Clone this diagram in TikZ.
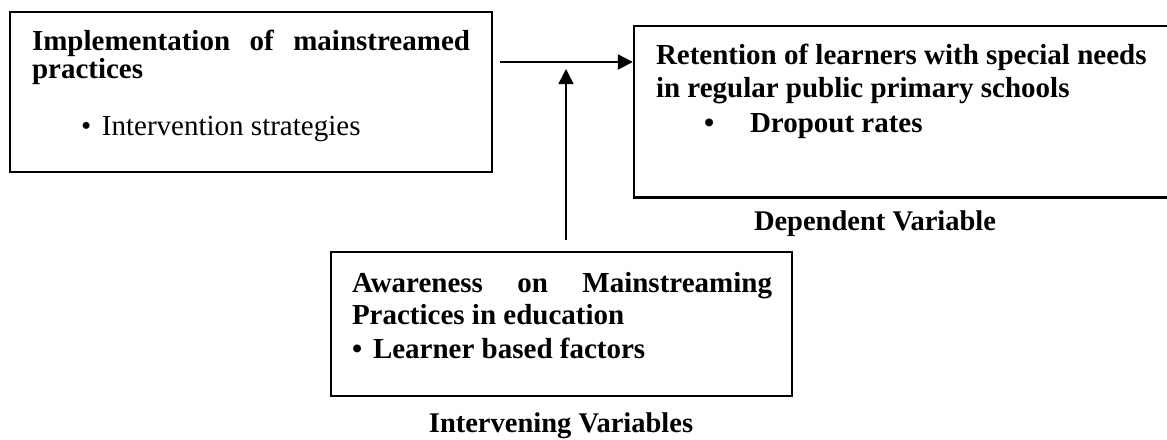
\documentclass[tikz,border=0pt]{standalone}
\usepackage{fontspec}
\setmainfont{Liberation Serif}
\usetikzlibrary{arrows.meta}
\begin{document}
\begin{tikzpicture}[x=1pt,y=-1pt,
  box/.style={draw=black, line width=2.4pt, rectangle, inner sep=0pt},
  txt/.style={anchor=base west, inner sep=0pt, outer sep=0pt, font=\fontsize{29}{29}\selectfont\bfseries},
  txtr/.style={anchor=base west, inner sep=0pt, outer sep=0pt, font=\fontsize{29}{29}\selectfont},
  lab/.style={anchor=base, inner sep=0pt, outer sep=0pt, font=\fontsize{28.5}{28.5}\selectfont\bfseries},
  mainarrow/.style={line width=2.4pt, -{Triangle[length=15pt,width=15pt]}},
  sidearrow/.style={line width=1.6pt, -{Triangle[length=15pt,width=15pt]}}
]
\useasboundingbox (0,0) rectangle (1167,439);
% boxes
\node[box, minimum width=482pt, minimum height=160pt] (b1) at (251,92) {};
\node[box, minimum width=536pt, minimum height=171.5pt] (b2) at (902,111.75) {};
\node[box, minimum width=461pt, minimum height=144pt] (b3) at (561.5,324) {};
% box 1 text
\node[txt] (t1a) at (32,50) {\hbox to 438pt{Implementation\hfill of\hfill mainstreamed}};
\node[txt] (t1b) at (32,78) {practices};
\node[txtr] (t1c) at (81,135) {\makebox[21pt][l]{\textbullet}Intervention strategies};
% box 2 text
\node[txt] (t2a) at (656,64) {Retention of learners with special needs};
\node[txt] (t2b) at (656,97) {in regular public primary schools};
\node[txt] (t2c) at (704,132) {\makebox[46pt][l]{\textbullet}Dropout rates};
% box 3 text
\node[txt] (t3a) at (352,292) {\hbox to 420pt{Awareness\hfill on\hfill Mainstreaming}};
\node[txt] (t3b) at (352,324) {Practices in education};
\node[txt] (t3c) at (352,358) {\makebox[21pt][l]{\textbullet}Learner based factors};
% labels
\node[lab] (dep) at (875,230) {Dependent Variable};
\node[lab] (int) at (561,432) {Intervening Variables};
% connectors
\coordinate (h0) at (500,62);
\coordinate (v0) at (566,240);
\coordinate (v1) at (566,69);
\draw[mainarrow] (h0) -- (b2.west |- h0);
\draw[sidearrow] (v0) -- (v1);
\end{tikzpicture}
\end{document}
